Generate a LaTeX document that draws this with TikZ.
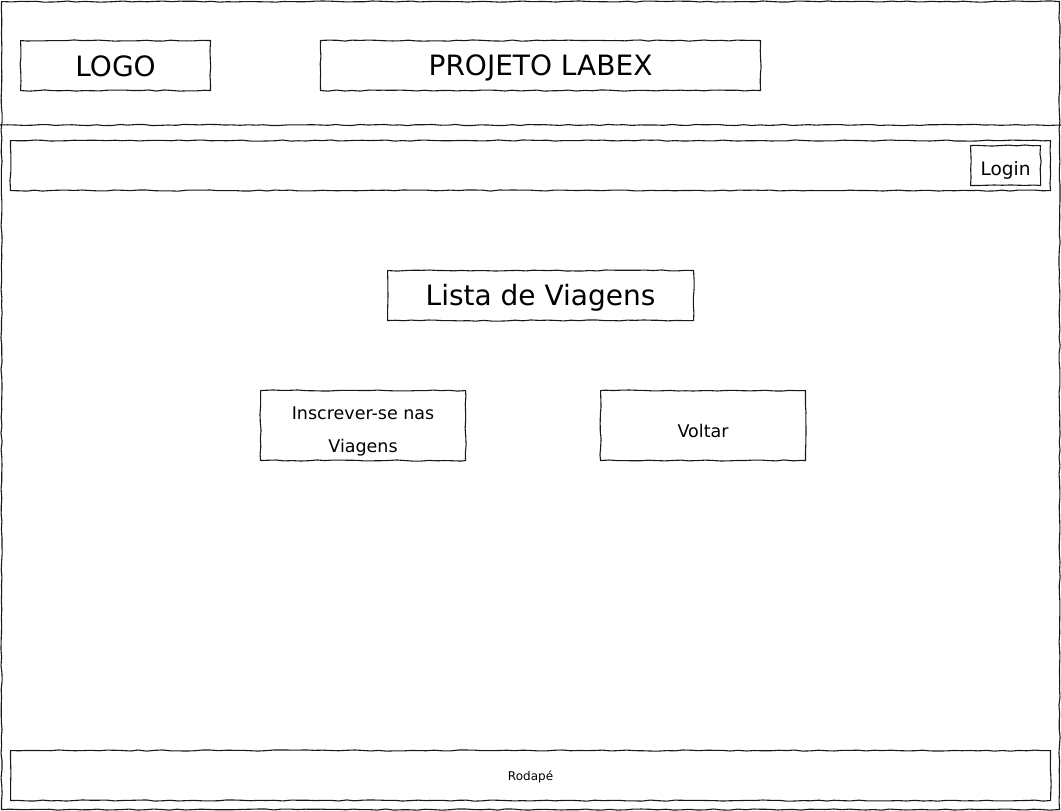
\documentclass[tikz,border=0pt]{standalone}
\usepackage{fontspec}
\setmainfont{DejaVu Sans}
\usetikzlibrary{decorations.pathmorphing}
\begin{document}
\begin{tikzpicture}[x=1pt,y=-1pt,
  sketch/.style={draw=black!90,line width=1.1pt,line join=round,
    decorate,decoration={random steps,segment length=8pt,amplitude=0.6pt}},
  boxnode/.style={sketch,rectangle,inner sep=0pt,anchor=north west},
  lbl/.style={inner sep=0pt},
  big/.style={font=\fontsize{28}{32}\selectfont},
  mid/.style={font=\fontsize{18.5}{21}\selectfont},
  btn/.style={font=\fontsize{17.5}{33}\selectfont,align=center},
  small/.style={font=\fontsize{12}{14}\selectfont}]
\pgfmathsetseed{4242}
\useasboundingbox (0,0) rectangle (1061,811);
% outer frame and header separator
\node[boxnode,minimum width=1058pt,minimum height=808pt] (frame) at (1,1) {};
\coordinate (sepL) at (0,125);
\coordinate (sepR) at (1061,125);
\draw[sketch] (sepL) -- (sepR);
% header boxes
\node[boxnode,minimum width=190pt,minimum height=50pt] (logo) at (20,40) {};
\node[lbl,big] (logot) at ([yshift=-0.5pt]logo.center) {LOGO};
\node[boxnode,minimum width=440pt,minimum height=50pt] (title) at (320,40) {};
\node[lbl,big] (titlet) at ([yshift=-2pt]title.center) {PROJETO LABEX};
% nav bar
\node[boxnode,minimum width=1040pt,minimum height=50pt] (nav) at (10,140) {};
\node[boxnode,minimum width=70pt,minimum height=40pt] (login) at (970,145) {};
\node[lbl,mid] (logint) at ([yshift=-4.5pt]login.center) {Login};
% page title
\node[boxnode,minimum width=306pt,minimum height=50pt] (lista) at (387,270) {};
\node[lbl,big] (listat) at ([yshift=-2pt]lista.center) {Lista de Viagens};
% buttons
\node[boxnode,minimum width=205pt,minimum height=70pt] (inscr) at (260,390) {};
\node[lbl,btn] (inscrt) at ([yshift=-6pt]inscr.center) {Inscrever-se nas\\Viagens};
\node[boxnode,minimum width=205pt,minimum height=70pt] (voltar) at (600,390) {};
\node[lbl,btn] (voltart) at ([yshift=-5pt]voltar.center) {Voltar};
% footer
\node[boxnode,minimum width=1040pt,minimum height=50pt] (footer) at (10,750) {};
\node[lbl,small] (footert) at ([yshift=-1pt]footer.center) {Rodapé};
\end{tikzpicture}
\end{document}
